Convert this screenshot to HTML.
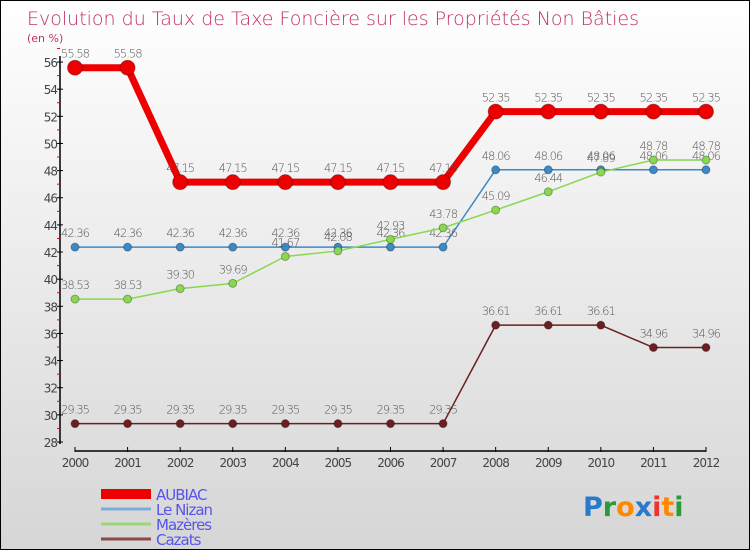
<!DOCTYPE html>
<html><head><meta charset="utf-8"><style>
body{margin:0}
#wrap{width:748px;height:548px;border:1px solid #000;background:linear-gradient(#ffffff,#d6d6d6);position:relative;overflow:hidden;font-family:"DejaVu Sans","Liberation Sans",sans-serif}
text{font-family:"DejaVu Sans","Liberation Sans",sans-serif}
</style></head><body>
<div id="wrap">
<svg id="chart" width="748" height="548"></svg>
</div>
<script>
const years=[2000,2001,2002,2003,2004,2005,2006,2007,2008,2009,2010,2011,2012];
const yTicks=[28,30,32,34,36,38,40,42,44,46,48,50,52,54,56];
const aubiac=[55.58,55.58,47.15,47.15,47.15,47.15,47.15,47.15,52.35,52.35,52.35,52.35,52.35];
const nizan=[42.36,42.36,42.36,42.36,42.36,42.36,42.36,42.36,48.06,48.06,48.06,48.06,48.06];
const mazeres=[38.53,38.53,39.3,39.69,41.67,42.08,42.93,43.78,45.09,46.44,47.89,48.78,48.78];
const cazats=[29.35,29.35,29.35,29.35,29.35,29.35,29.35,29.35,36.61,36.61,36.61,34.96,34.96];
const seriesNames=["AUBIAC","Le Nizan","Mazères","Cazats"];
const NS="http://www.w3.org/2000/svg";
const svg=document.getElementById('chart');
const X=i=>74+i*(705-74)/12;
const Y=v=>441-(v-28)*13.57;
function el(t,a,p){const e=document.createElementNS(NS,t);for(const k in a)e.setAttribute(k,a[k]);(p||svg).appendChild(e);return e;}
let t=el('text',{x:26,y:24,'font-size':19,fill:'#c0306a','font-weight':'300'});t.textContent='Evolution du Taux de Taxe Foncière sur les Propriétés Non Bâties';

t=el('text',{x:26,y:41,'font-size':11,fill:'#c0306a'});t.textContent='(en %)';

let ax=el('line',{x1:59,y1:55,x2:59,y2:443,stroke:'#000','stroke-width':1.5});

yTicks.forEach(v=>{
 el('line',{x1:56,x2:62,y1:Y(v),y2:Y(v),stroke:'#000'});
 el('line',{x1:56,x2:59,y1:Y(v+1),y2:Y(v+1),stroke:'#e00'});
 const tx=el('text',{x:56,y:Y(v)+5,'font-size':12,'text-anchor':'end',fill:'#444','letter-spacing':'-1'});tx.textContent=v;
 
});
ax=el('line',{x1:74,y1:450,x2:705,y2:450,stroke:'#000','stroke-width':1.5});

years.forEach((y,i)=>{
 el('line',{x1:X(i),x2:X(i),y1:446,y2:451,stroke:'#000'});
 const tx=el('text',{x:X(i),y:466,'font-size':12,'text-anchor':'middle',fill:'#444','letter-spacing':'-1'});tx.textContent=y;
 
});
function series(data,color,w,r,name){
 const g=el('g',{});
 
 el('polyline',{points:data.map((v,i)=>X(i)+','+Y(v)).join(' '),fill:'none',stroke:color,'stroke-width':w,'stroke-linejoin':'round'},g);
 data.forEach((v,i)=>{
  const c=el('circle',{cx:X(i),cy:Y(v),r:r,fill:color,stroke:'rgba(0,0,0,0.3)','stroke-width':1},g);
  
  const tx=el('text',{x:X(i),y:Y(v)-10,'font-size':11.5,'text-anchor':'middle',fill:'#555','letter-spacing':'-1','font-weight':'300'},g);tx.textContent=v.toFixed(2);
  
 });
}
series(cazats,'#6b1f20',1.5,4,'cazats');
series(nizan,'#3a8ac8',1.5,4,'le-nizan');
series(mazeres,'#88d850',1.5,4,'mazeres');
series(aubiac,'#ee0000',7,7.5,'aubiac');
const lc=['#ee0000','#7aaed8','#98d878','#8b4a4a'],lw=[10,3,3,3];
seriesNames.forEach((n,i)=>{
 const y=496+i*15;
 const g=el('g',{});
 el('line',{x1:100,x2:150,y1:y-3,y2:y-3,stroke:lc[i],'stroke-width':lw[i]},g);
 const tx=el('text',{x:155,y:y+3,'font-size':15,fill:'#5555ee','letter-spacing':'-1'},g);tx.textContent=n;
});
const lg=el('text',{x:582,y:515,'font-size':27,'font-weight':'bold'});

[['P','#2a7acc'],['r','#2a9a3a'],['o','#ff8800'],['x','#2a7acc'],['i','#ee3333'],['t','#ff8800'],['i','#2a9a3a']].forEach(([c,f])=>{const s=el('tspan',{fill:f},lg);s.textContent=c;});
</script>
</body></html>
